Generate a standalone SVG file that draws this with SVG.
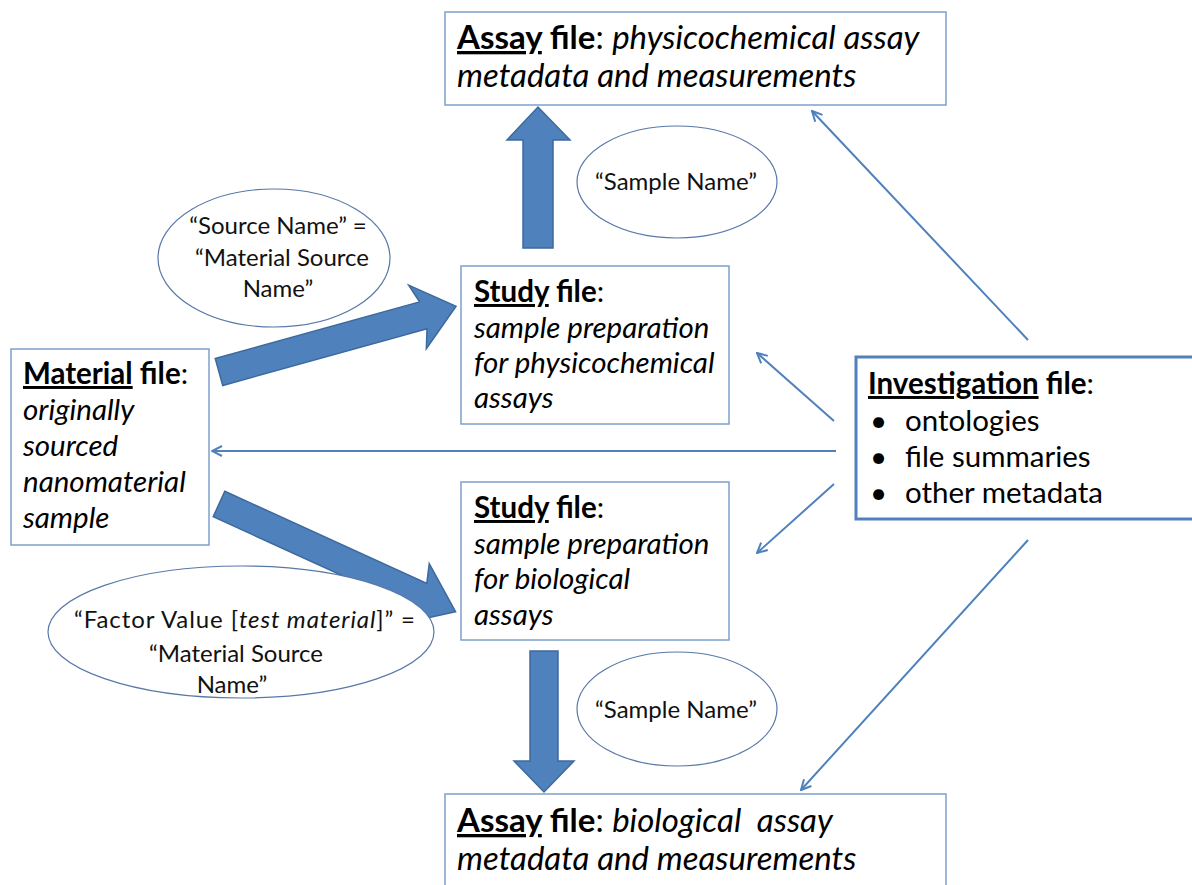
<svg xmlns="http://www.w3.org/2000/svg" width="1192" height="885" viewBox="0 0 1192 885">
<defs>
<style>
.box{fill:#fff;stroke:#7ea0cc;stroke-width:1.5}
.inv{fill:#fff;stroke:#4f81bd;stroke-width:3}
.ell{fill:#fff;stroke:#5878a8;stroke-width:1.2}
.t{font-family:Lato,"Liberation Sans",sans-serif;font-size:29.5px;fill:#000}
.a{font-family:Lato,"Liberation Sans",sans-serif;font-size:33px;fill:#000}
.e{font-family:Lato,"Liberation Sans",sans-serif;font-size:24px;fill:#111}
.b{font-weight:bold}
.i{font-style:italic}
.u{text-decoration:underline}
.big{fill:#4f81bd;stroke:#3d6a9e;stroke-width:1.5}
.thin{stroke:#4f81bd;stroke-width:2;fill:none;marker-end:url(#ah)}
</style>
<marker id="ah" viewBox="0 0 12 12" refX="11" refY="6" markerWidth="12" markerHeight="12" markerUnits="userSpaceOnUse" orient="auto">
<path d="M1,1 L11,6 L1,11" fill="none" stroke="#4f81bd" stroke-width="2"/>
</marker>
</defs>

<g id="connectors">
<path class="big" d="M523,248 L523,140 L507,140 L538,107 L570,140 L553,140 L553,248 Z"/>
<path class="big" d="M530,651 L530,761 L514,761 L544,792 L574,761 L558,761 L558,651 Z"/>
<path class="big" transform="translate(219,372) rotate(-15.5)" d="M0,-14 L212,-14 L206,-33 L246,0 L206,33 L212,14 L0,14 Z"/>
<path class="big" transform="translate(219,504) rotate(24.5)" d="M0,-14 L222,-14 L216,-33 L260,0 L216,33 L222,14 L0,14 Z"/>
<line class="thin" x1="1028" y1="340" x2="812" y2="111"/>
<line class="thin" x1="834" y1="421" x2="757" y2="353"/>
<line class="thin" x1="836" y1="451" x2="212" y2="451"/>
<line class="thin" x1="834" y1="484" x2="757" y2="553"/>
<line class="thin" x1="1028" y1="540" x2="801" y2="790"/>
</g>

<g id="assay-top">
<rect class="box" x="445" y="12" width="501" height="93"/>
<text class="a" x="457" y="49"><tspan class="b u">Assay</tspan><tspan class="b"> file</tspan>: <tspan class="i">physicochemical assay</tspan></text>
<text class="a i" x="457" y="87">metadata and measurements</text>
</g>

<g id="sample-name-top">
<ellipse class="ell" cx="677" cy="182" rx="100" ry="56"/>
<text class="e" x="676" y="190" text-anchor="middle">“Sample Name”</text>
</g>

<g id="source-name">
<ellipse class="ell" cx="274" cy="258" rx="116" ry="69"/>
<text class="e" x="278" y="234" text-anchor="middle">“Source Name” =</text>
<text class="e" x="282" y="266" text-anchor="middle">“Material Source</text>
<text class="e" x="278" y="297" text-anchor="middle">Name”</text>
</g>

<g id="study-phys">
<rect class="box" x="461" y="266" width="268" height="158"/>
<text class="t" x="474" y="302"><tspan class="b u">Study</tspan><tspan class="b"> file</tspan>:</text>
<text class="t i" x="474" y="338">sample preparation</text>
<text class="t i" x="474" y="373">for physicochemical</text>
<text class="t i" x="474" y="408">assays</text>
</g>

<g id="material">
<rect class="box" x="11" y="349" width="198" height="196"/>
<text class="t" x="23" y="384"><tspan class="b u">Material</tspan><tspan class="b"> file</tspan>:</text>
<text class="t i" x="23" y="420">originally</text>
<text class="t i" x="23" y="456">sourced</text>
<text class="t i" x="23" y="492">nanomaterial</text>
<text class="t i" x="23" y="528">sample</text>
</g>

<g id="investigation">
<rect class="inv" x="856" y="357" width="345" height="162"/>
<text class="t" x="868" y="394"><tspan class="b u">Investigation</tspan><tspan class="b"> file</tspan>:</text>
<text class="t" x="870" y="431" font-size="24">•</text><text class="t" x="905" y="431">ontologies</text>
<text class="t" x="870" y="467" font-size="24">•</text><text class="t" x="905" y="467">file summaries</text>
<text class="t" x="870" y="503" font-size="24">•</text><text class="t" x="905" y="503">other metadata</text>
</g>

<g id="study-bio">
<rect class="box" x="461" y="482" width="268" height="158"/>
<text class="t" x="474" y="518"><tspan class="b u">Study</tspan><tspan class="b"> file</tspan>:</text>
<text class="t i" x="474" y="554">sample preparation</text>
<text class="t i" x="474" y="589">for biological</text>
<text class="t i" x="474" y="625">assays</text>
</g>

<g id="factor-value">
<ellipse class="ell" cx="241" cy="632" rx="193" ry="66"/>
<text class="e" x="245" y="628" text-anchor="middle" letter-spacing="0.9">“Factor Value [<tspan class="i">test material</tspan>]” =</text>
<text class="e" x="236" y="662" text-anchor="middle">“Material Source</text>
<text class="e" x="232" y="693" text-anchor="middle">Name”</text>
</g>

<g id="sample-name-bottom">
<ellipse class="ell" cx="677" cy="709" rx="100" ry="57"/>
<text class="e" x="676" y="718" text-anchor="middle">“Sample Name”</text>
</g>

<g id="assay-bottom">
<rect class="box" x="445" y="794" width="501" height="100"/>
<text class="a" x="457" y="832"><tspan class="b u">Assay</tspan><tspan class="b"> file</tspan>: <tspan class="i">biological&#160; assay</tspan></text>
<text class="a i" x="457" y="870">metadata and measurements</text>
</g>
</svg>
